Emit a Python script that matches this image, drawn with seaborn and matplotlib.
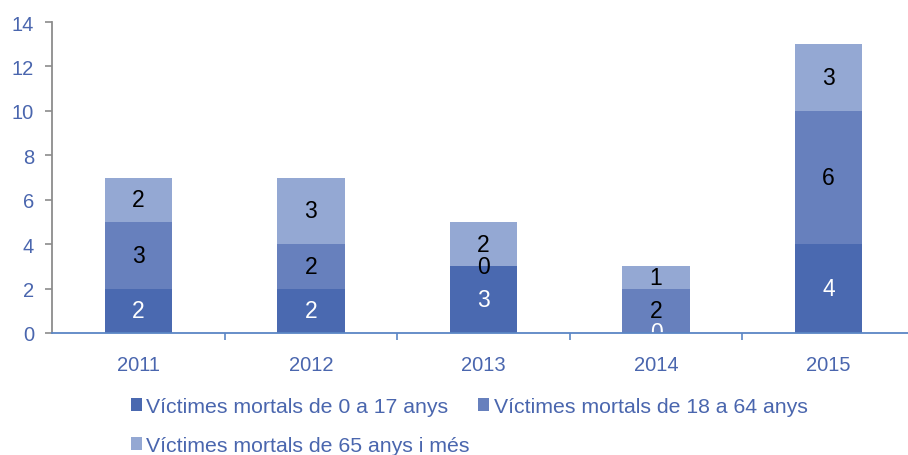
import numpy as np
import pandas as pd
import matplotlib
matplotlib.use("Agg")
import matplotlib.pyplot as plt
from matplotlib.patches import Patch
import seaborn as sns

years = ["2011", "2012", "2013", "2014", "2015"]
age_0_17 = [2, 2, 3, 0, 4]
age_18_64 = [3, 2, 0, 2, 6]
age_65_plus = [2, 3, 2, 1, 3]
series_names = [
    "Víctimes mortals de 0 a 17 anys",
    "Víctimes mortals de 18 a 64 anys",
    "Víctimes mortals de 65 anys i més",
]
colors = ["#4A69B0", "#6780BD", "#94A8D3"]
label_colors = ["white", "black", "black"]
text_blue = "#4A66AE"

sns.set_theme(style="white")
plt.rcParams["font.family"] = ["Liberation Sans", "DejaVu Sans"]

df = pd.DataFrame({
    "year": years,
    series_names[0]: age_0_17,
    series_names[1]: age_18_64,
    series_names[2]: age_65_plus,
})

fig = plt.figure(figsize=(9.08, 4.56), dpi=100)
ax = fig.add_axes([52 / 908, 1 - 334 / 456, 863 / 908, 311 / 456])

bottom = np.zeros(len(years))
for name, col, lcol in zip(series_names, colors, label_colors):
    vals = df[name].to_numpy(dtype=float)
    sns.barplot(data=df, x="year", y=name, bottom=bottom, color=col,
                width=0.39, saturation=1, ax=ax, linewidth=0, zorder=2)
    for i, v in enumerate(vals):
        ax.text(i, bottom[i] + v / 2, f"{int(v)}", ha="center", va="center",
                color=lcol, fontsize=16.5, clip_on=True, zorder=3)
    bottom = bottom + vals

ax.set_xlim(-0.5, 4.5)
ax.set_ylim(0, 14)
ax.set_yticks(np.arange(0, 15, 2))
ax.set_xlabel("")
ax.set_ylabel("")

for s in ["top", "right"]:
    ax.spines[s].set_visible(False)
ax.spines["left"].set_color("#8C8C8C")
ax.spines["left"].set_linewidth(1.3)
ax.spines["bottom"].set_color("#5B86C5")
ax.spines["bottom"].set_linewidth(1.3)
ax.spines["bottom"].set_zorder(4)

ax.tick_params(axis="y", which="major", left=True, length=5, width=1.2,
               color="#8C8C8C", labelsize=14.5, labelcolor=text_blue, pad=8)
ax.tick_params(axis="x", which="major", bottom=False, labelsize=14.5,
               labelcolor=text_blue, pad=10)
ax.set_xticks(np.arange(0.5, 4.5, 1.0), minor=True)
ax.tick_params(axis="x", which="minor", bottom=True, length=5, width=1.2,
               color="#5B86C5", direction="out")

handles = [Patch(facecolor=c, edgecolor="none") for c in colors]
order = [0, 2, 1]
fig.legend([handles[i] for i in order], [series_names[i] for i in order],
           loc="upper left", bbox_to_anchor=(131 / 908, 1 - 398 / 456),
           ncol=2, frameon=False, fontsize=15.3, labelcolor=text_blue,
           handlelength=0.52, handleheight=0.56, handletextpad=0.2,
           columnspacing=0.4, labelspacing=0.95, borderpad=0,
           borderaxespad=0)

fig.savefig("out.png", dpi=100)
